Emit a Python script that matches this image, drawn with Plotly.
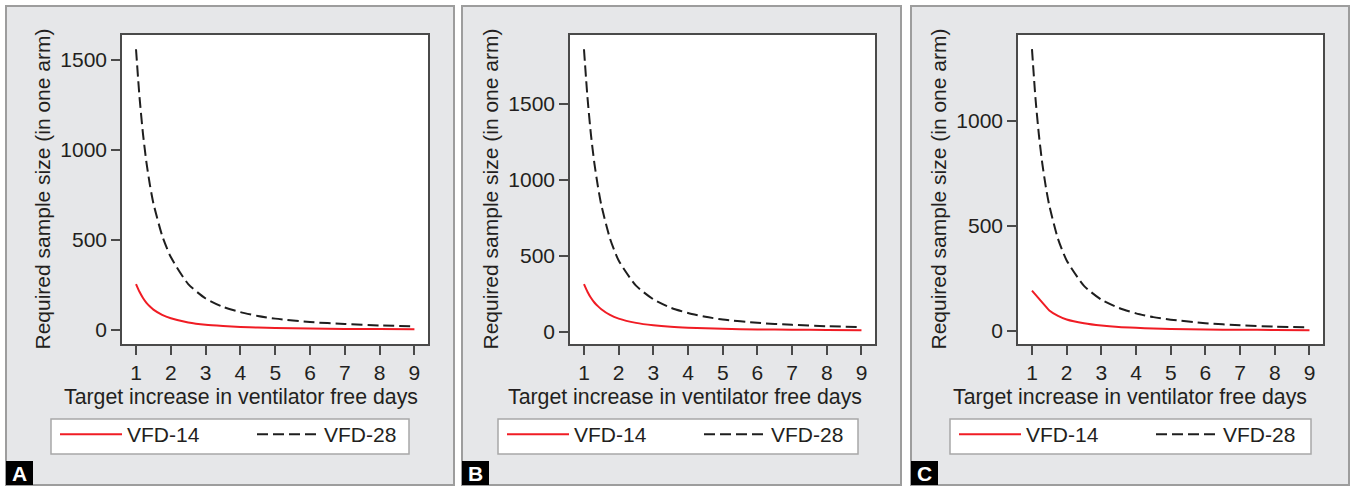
import plotly.graph_objects as go

W, H = 1351, 487

# ---------------- data ----------------
target_days = [1, 1.1, 1.2, 1.3, 1.4, 1.5, 1.75, 2, 2.5, 3, 3.5, 4, 4.5, 5, 6, 7, 8, 9]

vfd14_A = [255, 212, 178, 151, 130, 113, 84, 65, 42, 29, 22, 17, 13, 11, 8, 6, 5, 4]
vfd28_A = [1560, 1295, 1090, 930, 805, 703, 525, 405, 255, 175, 128, 99, 78, 63, 44, 33, 25, 20]

vfd14_B = [315, 265, 225, 194, 170, 150, 112, 88, 60, 44, 34, 28, 24, 21, 17, 15, 13, 12]
vfd28_B = [1860, 1545, 1300, 1110, 960, 835, 615, 470, 305, 215, 160, 125, 100, 82, 60, 47, 38, 32]

vfd14_C = [192, 173, 154, 135, 116, 98, 72, 55, 37, 26, 19, 15, 12, 10, 7, 6, 5, 4]
vfd28_C = [1343, 1110, 933, 795, 685, 597, 439, 336, 215, 149, 110, 84, 66, 54, 37, 27, 21, 17]

series_names = ["VFD-14", "VFD-28"]
panel_labels = ["A", "B", "C"]
x_ticks = [1, 2, 3, 4, 5, 6, 7, 8, 9]
y_ticks = {"A": [0, 500, 1000, 1500], "B": [0, 500, 1000, 1500], "C": [0, 500, 1000]}
y_ranges = {"A": [-78, 1639], "B": [-79, 1954], "C": [-62, 1410]}
x_range = [0.597, 9.39]

x_title = "Target increase in ventilator free days"
y_title = "Required sample size (in one arm)"

# ---------------- layout geometry (pixels) ----------------
panels_px = {"A": (6, 454), "B": (462, 901), "C": (911, 1349)}
plots_px = {"A": (122, 428), "B": (570, 875), "C": (1018, 1323)}
ytitle_px = {"A": 42, "B": 490, "C": 938}
xtitle_px = {"A": 241, "B": 685, "C": 1130}
legend_box_px = {"A": (51, 409), "B": (498, 858), "C": (950, 1311)}
legend_top, legend_bot = 419, 454
plot_top, plot_bot = 35, 344
panel_top, panel_bot = 6, 485

def fx(px):
    return px / W

def fy(py):
    return 1 - py / H

FONT = "Liberation Sans, Arial, sans-serif"
TXT = "#231f20"
RED = "#f01c24"
DARK = "#1e1e1e"
AXC = "#4a4a4a"

data_sets = {"A": (vfd14_A, vfd28_A), "B": (vfd14_B, vfd28_B), "C": (vfd14_C, vfd28_C)}

fig = go.Figure()
shapes = []
annotations = []
layout_extra = {}

for i, p in enumerate(panel_labels):
    sfx = "" if i == 0 else str(i + 1)
    xa, ya = "x" + sfx, "y" + sfx
    leg = "legend" + sfx
    v14, v28 = data_sets[p]
    fig.add_trace(go.Scatter(x=target_days, y=v14, mode="lines", name=series_names[0],
                             line=dict(color=RED, width=2, shape="spline", smoothing=0.6),
                             xaxis=xa, yaxis=ya, legend=leg))
    fig.add_trace(go.Scatter(x=target_days, y=v28, mode="lines", name=series_names[1],
                             line=dict(color=DARK, width=2, dash="11px,5px", shape="spline", smoothing=0.6),
                             xaxis=xa, yaxis=ya, legend=leg))

    x0, x1 = plots_px[p]
    common = dict(showline=True, mirror=True, linecolor=AXC, linewidth=1.5,
                  ticks="outside", ticklen=9, tickwidth=1.5, tickcolor=AXC,
                  showgrid=False, zeroline=False, automargin=False,
                  tickfont=dict(family=FONT, size=21, color=TXT))
    layout_extra["xaxis" + sfx] = dict(domain=[fx(x0), fx(x1)], range=x_range,
                                       tickvals=x_ticks, anchor=ya, **common)
    layout_extra["yaxis" + sfx] = dict(domain=[fy(plot_bot), fy(plot_top)], range=y_ranges[p],
                                       tickvals=y_ticks[p], anchor=xa, **common)

    # panel background
    px0, px1 = panels_px[p]
    shapes.append(dict(type="rect", xref="paper", yref="paper", layer="below",
                       x0=fx(px0), x1=fx(px1), y0=fy(panel_bot), y1=fy(panel_top),
                       fillcolor="#e6e7e9", line=dict(color="#9d9d9d", width=2)))
    # white plot area
    shapes.append(dict(type="rect", xref=xa + " domain", yref=ya + " domain", layer="below",
                       x0=0, x1=1, y0=0, y1=1, fillcolor="white", line=dict(width=0)))
    # legend frame
    lx0, lx1 = legend_box_px[p]
    shapes.append(dict(type="rect", xref="paper", yref="paper", layer="below",
                       x0=fx(lx0), x1=fx(lx1), y0=fy(legend_bot), y1=fy(legend_top),
                       fillcolor="white", line=dict(color="#a8a8a8", width=1.5)))

    annotations.append(dict(text=y_title, textangle=-90, xref="paper", yref="paper",
                            x=fx(ytitle_px[p]), y=fy((plot_top + plot_bot) / 2),
                            xanchor="center", yanchor="middle", showarrow=False,
                            font=dict(family=FONT, size=21, color=TXT)))
    annotations.append(dict(text=x_title, xref="paper", yref="paper",
                            x=fx(xtitle_px[p]), y=fy(397),
                            xanchor="center", yanchor="middle", showarrow=False,
                            font=dict(family=FONT, size=21.3, color=TXT)))
    annotations.append(dict(text="<b>%s</b>" % p, xref="paper", yref="paper",
                            x=fx(px0), y=fy(panel_bot), xanchor="left", yanchor="bottom",
                            width=27, height=24, bgcolor="black", borderpad=0, borderwidth=0,
                            showarrow=False, font=dict(family=FONT, size=21, color="white")))

    layout_extra[leg] = dict(orientation="h", x=fx(lx0 + 4), y=fy(414),
                             xanchor="left", yanchor="top", bgcolor="rgba(0,0,0,0)",
                             borderwidth=0,
                             itemwidth=62, entrywidth=120, entrywidthmode="pixels",
                             font=dict(family=FONT, size=21, color=TXT))

fig.update_layout(width=W, height=H,
                  margin=dict(l=0, r=0, t=0, b=0, pad=0, autoexpand=False),
                  paper_bgcolor="white", plot_bgcolor="rgba(0,0,0,0)",
                  shapes=shapes, annotations=annotations, showlegend=True,
                  font=dict(family=FONT, color=TXT), **layout_extra)

fig.write_html("out.html", config={"displayModeBar": False},
               post_script="document.body.style.margin='0px';")
